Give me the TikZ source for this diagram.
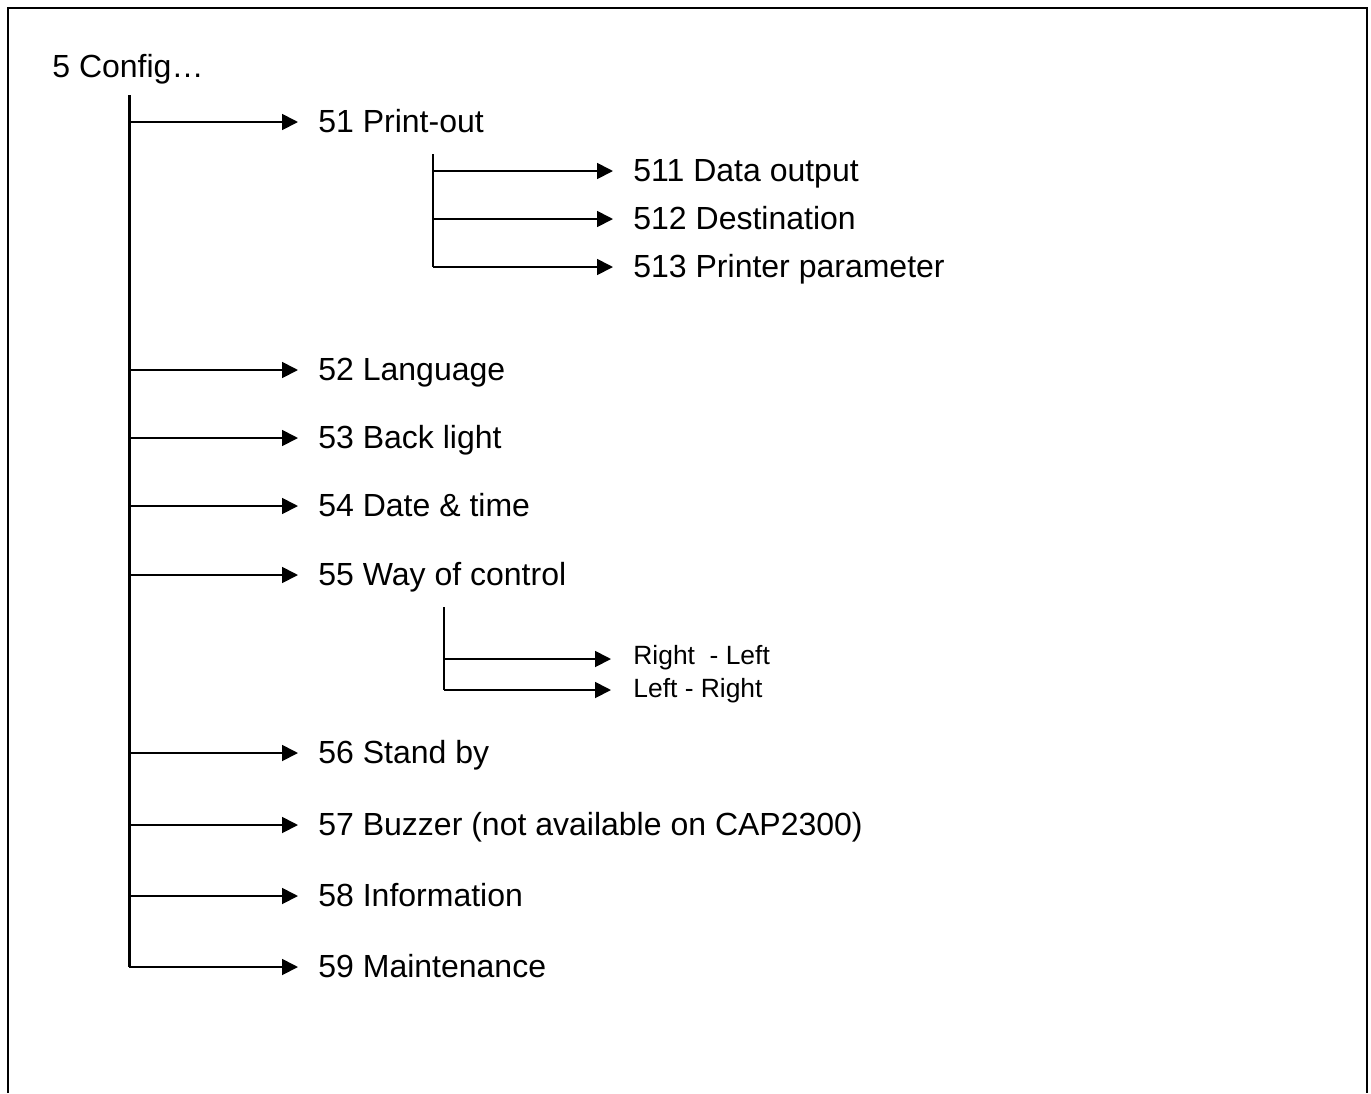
\documentclass[tikz,border=0pt]{standalone}
\usepackage{fontspec}
\setmainfont{Liberation Sans}
\usetikzlibrary{arrows.meta}
\begin{document}
\begin{tikzpicture}[x=0.5pt,y=-0.5pt,
  lbl/.style={inner sep=0pt,anchor=west,text height=1.08em,text depth=0pt,font=\fontsize{16pt}{19pt}\selectfont},
  slbl/.style={lbl,font=\fontsize{13.2pt}{16pt}\selectfont},
  br/.style={line width=0.9pt,-{Triangle[length=8pt,width=8pt]},shorten >=10pt},
  sbr/.style={br,shorten >=11pt},
  trunk/.style={line width=1.5pt},
  vline/.style={line width=0.9pt},
  frame/.style={line width=1.2pt}]
\useasboundingbox (0,0) rectangle (1371,1093);
\draw[frame] (8,1093) -- (8,8) -- (1367,8) -- (1367,1093);

\node[lbl] (cfg) at (52,67) {5 Config…};
\node[lbl] (n51) at (318,122) {51 Print-out};
\node[lbl] (n511) at (633,171) {511 Data output};
\node[lbl] (n512) at (633,219) {512 Destination};
\node[lbl] (n513) at (633,267) {513 Printer parameter};
\node[lbl] (n52) at (318,370) {52 Language};
\node[lbl] (n53) at (318,438) {53 Back light};
\node[lbl] (n54) at (318,506) {54 Date \& time};
\node[lbl] (n55) at (318,575) {55 Way of control};
\node[slbl] (rl) at (633,654) {Right\ \ - Left};
\node[slbl] (lr) at (633,687) {Left - Right};
\node[lbl] (n56) at (318,753) {56 Stand by};
\node[lbl] (n57) at (318,825) {57 Buzzer (not available on CAP2300)};
\node[lbl] (n58) at (318,896) {58 Information};
\node[lbl] (n59) at (318,967) {59 Maintenance};

% main trunk
\coordinate (ttop) at (129,95);
\coordinate (tbot) at (129,0 |- n59.west);
\draw[trunk] (ttop) -- (tbot);
\foreach \n in {51,52,53,54,55,56,57,58} {
  \draw[br] (129,0 |- n\n.west) -- (n\n.west);
}
\draw[br] (tbot) -- (n59.west);

% sub-branch 51
\coordinate (s1top) at (433,154);
\coordinate (s1bot) at (433,0 |- n513.west);
\draw[vline] (s1top) -- (s1bot);
\draw[br] (433,0 |- n511.west) -- (n511.west);
\draw[br] (433,0 |- n512.west) -- (n512.west);
\draw[br] (s1bot) -- (n513.west);

% sub-branch 55
\coordinate (s2top) at (444,607);
\coordinate (s2bot) at (444,690);
\draw[vline] (s2top) -- (s2bot);
\draw[sbr] (444,659) -- (rl.west |- 0,659);
\draw[sbr] (s2bot) -- (lr.west |- 0,690);
\end{tikzpicture}
\end{document}
